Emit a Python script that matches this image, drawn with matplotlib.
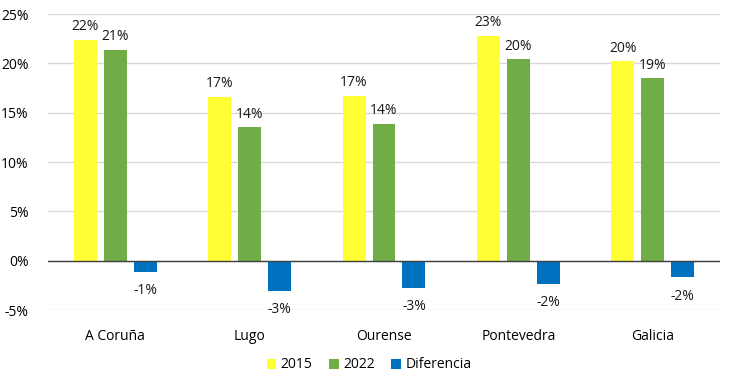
import matplotlib
matplotlib.use("Agg")
import matplotlib.pyplot as plt
import numpy as np

categories = ["A Coruña", "Lugo", "Ourense", "Pontevedra", "Galicia"]
v2015 = [22.4, 16.6, 16.7, 22.8, 20.2]
v2022 = [21.4, 13.5, 13.9, 20.4, 18.5]
vdiff = [-1.1, -3.1, -2.8, -2.4, -1.7]
yticks = [-5, 0, 5, 10, 15, 20, 25]

plt.rcParams['font.family'] = ['Open Sans', 'DejaVu Sans']
fig = plt.figure(figsize=(7.38, 3.84), dpi=100)
ax = fig.add_axes([48/738, 1-310/384, (720-48)/738, (310-14)/384])

x = np.arange(len(categories))
w = 0.171
sp = 0.223
series = [(v2015, "#FFFF33", "2015"), (v2022, "#70AD47", "2022"), (vdiff, "#0070C0", "Diferencia")]
for i, (vals, col, lab) in enumerate(series):
    pos = x + (i - 1) * sp
    ax.bar(pos, vals, width=w, color=col, label=lab, zorder=3)
    for p, v in zip(pos, vals):
        txt = f"{int(np.floor(v + 0.5)):d}%"
        if v >= 0:
            ax.annotate(txt, (p, v), xytext=(0, 4), textcoords="offset points",
                        ha="center", va="bottom", fontsize=10, color="#1a1a1a")
        else:
            ax.annotate(txt, (p, v), xytext=(0, -8), textcoords="offset points",
                        ha="center", va="top", fontsize=10, color="#1a1a1a")

ax.set_xlim(-0.5, len(categories) - 0.5)
ax.set_ylim(-5, 25)
ax.set_yticks(yticks)
ax.set_yticklabels([f"{t}%" for t in yticks], fontsize=10)
ax.set_xticks(x)
ax.set_xticklabels(categories, fontsize=10)
ax.tick_params(axis="both", length=0)
ax.tick_params(axis="x", pad=14)
ax.tick_params(axis="y", pad=14)
ax.grid(axis="y", color="#D9D9D9", linewidth=1, zorder=0)
ax.axhline(0, color="#404040", linewidth=1, zorder=4)
for s in ax.spines.values():
    s.set_visible(False)

fig.legend(loc="center", bbox_to_anchor=(0.5, 1-365/384), ncol=3, frameon=False,
           fontsize=10, handlelength=0.7, handleheight=0.7, handletextpad=0.3,
           columnspacing=1.2)
fig.savefig("out.png", dpi=100)
